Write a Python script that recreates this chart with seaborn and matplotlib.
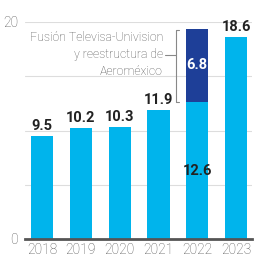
import matplotlib
matplotlib.use("Agg")
import matplotlib.pyplot as plt
import seaborn as sns
import pandas as pd

# Data
years = ["2018", "2019", "2020", "2021", "2022", "2023"]
base = [9.5, 10.2, 10.3, 11.9, 12.6, 18.6]
extra = [0, 0, 0, 0, 6.8, 0]
note = ["Fusión Televisa-Univision", "y reestructura de", "Aeroméxico"]

light = "#00b4ec"
dark = "#1e3f98"
grey = "#555555"

sns.set_theme(style="white")
plt.rcParams["font.family"] = ["Roboto", "DejaVu Sans"]

df = pd.DataFrame({"year": years, "base": base, "extra": extra})
df["total"] = df["base"] + df["extra"]

fig = plt.figure(figsize=(2.55, 2.71), dpi=100)
ax = fig.add_axes([25 / 255, 32 / 271, 227 / 255, 217 / 271])

# stacked: totals in dark, base on top in light
sns.barplot(data=df, x="year", y="total", color=dark, width=0.57,
            saturation=1, linewidth=0, ax=ax, zorder=2)
sns.barplot(data=df, x="year", y="base", color=light, width=0.57,
            saturation=1, linewidth=0, ax=ax, zorder=3)

ax.set_xlim(-0.44, 5.41)
ax.set_ylim(0, 20)
for g in [5, 10, 15, 20]:
    ax.axhline(g, color="#dddddd", lw=0.8, zorder=1)

for s in ["top", "right", "left"]:
    ax.spines[s].set_visible(False)
ax.spines["bottom"].set_color("#555555")
ax.spines["bottom"].set_linewidth(2)
ax.spines["bottom"].set_zorder(4)

ax.set_yticks([0, 20])
ax.set_yticklabels(["0", "20"])
ax.tick_params(axis="y", length=0, labelsize=10, labelcolor=grey, pad=5)
ax.tick_params(axis="x", length=0, labelsize=10, labelcolor=grey, pad=3)
for lab in ax.get_xticklabels() + ax.get_yticklabels():
    lab.set_fontweight("light")
ax.set_xlabel("")
ax.set_ylabel("")

# value labels
for i, (b, e) in enumerate(zip(base, extra)):
    if e > 0:
        ax.text(i, b / 2, f"{b:.1f}", ha="center", va="center",
                fontsize=10.5, fontweight="bold", color="#222222", zorder=5)
        ax.text(i, b + e / 2, f"{e:.1f}", ha="center", va="center",
                fontsize=10.5, fontweight="bold", color="white", zorder=5)
    else:
        ax.text(i, b + 0.3, f"{b:.1f}", ha="center", va="bottom",
                fontsize=10.5, fontweight="bold", color="#222222", zorder=5)

# annotation with bracket
ys = [18.6, 17.0, 15.4]
for t, y in zip(note, ys):
    ax.text(3.12, y, t, ha="right", va="center", fontsize=8.8,
            color=grey, fontweight="light", zorder=5)
ax.plot([3.53, 3.45, 3.45, 3.53], [19.3, 19.3, 12.6, 12.6],
        color="#888888", lw=0.8, zorder=5, clip_on=False)
ax.plot([3.16, 3.45], [17.0, 17.0], color="#888888", lw=0.8, zorder=5)

fig.savefig("out.png", dpi=100)
